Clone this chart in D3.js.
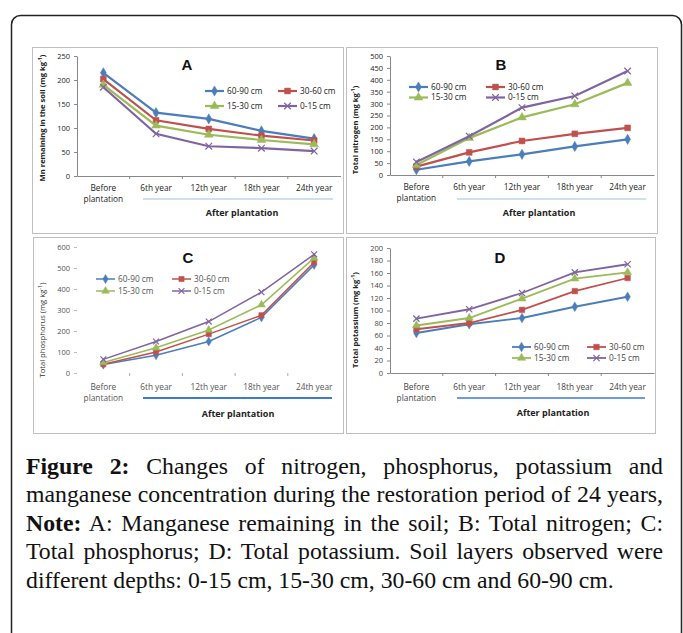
<!DOCTYPE html>
<html>
<head>
<meta charset="utf-8">
<script src="https://cdn.jsdelivr.net/npm/d3@7"></script>
<style>
  body { margin: 0; background: #fff; }
  #wrap { position: relative; width: 683px; height: 633px; overflow: hidden; }
  #wrap svg { position: absolute; left: 0; top: 0; }
  .cap { position: absolute; left: 26px; top: 452px; width: 637px; font-family: "Liberation Serif", serif; font-size: 19.5px; line-height: 28.4px; color: #111; }
  .cap div { text-align: justify; text-align-last: justify; white-space: nowrap; }
  .cap div.last { text-align-last: left; }
  .cap b { font-weight: bold; }
  .measure { position: absolute; visibility: hidden; white-space: nowrap; font-family: "Liberation Serif", serif; font-size: 19.5px; }
</style>
</head>
<body>
<div id="wrap"></div>
<script>
const categories = ['Before plantation', '6th year', '12th year', '18th year', '24th year'];
const depths = ['60-90 cm', '30-60 cm', '15-30 cm', '0-15 cm'];
const colors = ['#4a7ebb', '#c0504d', '#9bbb59', '#8064a2'];

// values per depth, in the order of depths
const mnValues = [
  [215, 132, 119, 94, 78],
  [202, 116, 98, 84, 74],
  [190, 105, 86, 75, 66],
  [185, 88, 62, 58, 52]
];
const nValues = [
  [22, 57, 87, 120, 150],
  [35, 95, 143, 173, 198],
  [42, 155, 242, 297, 387],
  [55, 163, 283, 332, 437]
];
const pValues = [
  [40, 85, 150, 265, 515],
  [42, 100, 185, 275, 527],
  [50, 120, 205, 325, 548],
  [65, 150, 245, 385, 565]
];
const kValues = [
  [64, 78, 88, 106, 122],
  [70, 80, 101, 131, 152],
  [76, 88, 119, 151, 161],
  [87, 102, 128, 161, 174]
];

const mnTicks = [0, 50, 100, 150, 200, 250];
const nTicks = [0, 50, 100, 150, 200, 250, 300, 350, 400, 450, 500];
const pTicks = [0, 100, 200, 300, 400, 500, 600];
const kTicks = [0, 20, 40, 60, 80, 100, 120, 140, 160, 180, 200];

const captionLines = [
  ['<b>Figure 2:</b> Changes of nitrogen, phosphorus, potassium and', ''],
  ['manganese concentration during the restoration period of 24 years,', ''],
  ['<b>Note:</b> A: Manganese remaining in the soil; B: Total nitrogen; C:', ''],
  ['Total phosphorus; D: Total potassium. Soil layers observed were', ''],
  ['different depths: 0-15 cm, 15-30 cm, 30-60 cm and 60-90 cm.', 'last']
];

const W = 683, H = 633;
const font = '"Open Sans", Lato, sans-serif';

const wrap = d3.select('#wrap');
const svg = wrap.append('svg').attr('width', W).attr('height', H);

// outer frame
svg.append('rect')
  .attr('x', 11.5).attr('y', 15.5)
  .attr('width', 670).attr('height', 700)
  .attr('rx', 9)
  .attr('fill', 'none').attr('stroke', '#222').attr('stroke-width', 1.5);

const xSymbol = d3.symbolX || d3.symbolTimes;
const symbols = [
  { type: d3.symbolDiamond, size: 30, fill: true },
  { type: d3.symbolSquare, size: 34, fill: true },
  { type: d3.symbolTriangle, size: 32, fill: true },
  { type: xSymbol, size: 30, fill: false }
];

const panels = [
  { name: 'A', values: mnValues, ticks: mnTicks, box: [32, 47, 311, 186],
    xRange: [77, 340.5], yRange: [176, 56], ylabel: 'Mn remaining in the soil (mg kg', ylx: 45, yly: 118,
    title: [187, 70], legend: { x: 205, y: 91, dx: 73, dy: 15 }, labelY: 188, blue: [143, 333, 199, '#9dc3e6', 1.2],
    after: [242, 216], axisColor: '#888', textColor: '#222', lw: 2.2, ms: 1 },
  { name: 'B', values: nValues, ticks: nTicks, box: [346, 47, 311, 186],
    xRange: [390, 654], yRange: [175, 56], ylabel: 'Total nitrogen (mg kg', ylx: 358, yly: 130,
    title: [501, 70], legend: { x: 409, y: 87, dx: 77, dy: 10.5 }, labelY: 187, blue: [457, 646, 199, '#9dc3e6', 1.2],
    after: [539, 216], axisColor: '#888', textColor: '#222', lw: 2.2, ms: 1 },
  { name: 'C', values: pValues, ticks: pTicks, box: [33, 237, 310, 196],
    xRange: [77, 340.5], yRange: [373, 247], ylabel: 'Total phosphorus (mg kg', ylx: 45, yly: 330,
    title: [188, 263], legend: { x: 96, y: 279, dx: 76, dy: 12 }, labelY: 387, blue: [143, 332, 398, '#3d7cc9', 2],
    after: [238, 417], axisColor: 'none', textColor: '#555', lw: 1.5, ms: 0.8 },
  { name: 'D', values: kValues, ticks: kTicks, box: [346, 237, 309, 196],
    xRange: [390, 654], yRange: [373, 248], ylabel: 'Total potassium (mg kg', ylx: 358, yly: 320,
    title: [500, 263], legend: { x: 512, y: 347, dx: 75, dy: 11 }, labelY: 387, blue: [457, 645, 398, '#3d7cc9', 1.6],
    after: [553, 416], axisColor: '#888', textColor: '#444', lw: 1.8, ms: 0.9 }
];

function marker(sel, k, scale) {
  const s = symbols[k];
  sel.attr('d', d3.symbol().type(s.type).size(s.size * scale)())
    .attr('fill', s.fill ? colors[k] : 'none')
    .attr('stroke', colors[k])
    .attr('stroke-width', s.fill ? 0.5 : 1.2);
}

function drawPanel(p) {
  const g = svg.append('g');

  g.append('rect')
    .attr('x', p.box[0] + 0.5).attr('y', p.box[1] + 0.5)
    .attr('width', p.box[2]).attr('height', p.box[3])
    .attr('fill', '#fff').attr('stroke', '#bfbfbf').attr('stroke-width', 1);

  const x = d3.scaleBand().domain(categories).range(p.xRange);
  const y = d3.scaleLinear().domain([0, d3.max(p.ticks)]).range(p.yRange);
  const bw = x.bandwidth();

  // y axis
  const gy = g.append('g')
    .attr('transform', `translate(${p.xRange[0]},0)`)
    .call(d3.axisLeft(y).tickValues(p.ticks).tickSize(3).tickSizeOuter(0).tickPadding(4));
  gy.select('.domain').attr('stroke', p.axisColor);
  gy.selectAll('.tick line').attr('stroke', p.name === 'C' ? '#bbb' : p.axisColor);
  gy.selectAll('.tick text').attr('font-family', font).attr('font-size', 7.5).attr('fill', p.textColor);

  // x axis, labels centred in each band
  const gx = g.append('g')
    .attr('transform', `translate(0,${p.yRange[0]})`)
    .call(d3.axisBottom(x).tickSize(0).tickSizeOuter(0).tickPadding(0));
  gx.select('.domain').attr('stroke', p.axisColor);
  gx.selectAll('.tick text').each(function(d) {
    const t = d3.select(this).text(null)
      .attr('font-family', font).attr('font-size', 8.3).attr('fill', p.textColor)
      .attr('y', p.labelY - p.yRange[0]).attr('dy', null);
    if (d === categories[0]) {
      d.split(' ').forEach((w, i) => {
        t.append('tspan').attr('x', 0).attr('dy', i === 0 ? '0.35em' : '1.35em').text(w);
      });
    } else {
      t.append('tspan').attr('x', 0).attr('dy', '0.35em').text(d);
    }
  });

  // tick marks between categories
  g.selectAll('.xtick').data(categories.slice(1))
    .join('line')
    .attr('x1', d => x(d)).attr('x2', d => x(d))
    .attr('y1', p.yRange[0]).attr('y2', p.yRange[0] + 3)
    .attr('stroke', p.name === 'C' ? '#aaa' : p.axisColor);

  // y axis title
  const yl = g.append('text')
    .attr('transform', `translate(${p.ylx},${p.yly}) rotate(-90)`)
    .attr('text-anchor', 'middle')
    .attr('font-family', font).attr('font-size', 7.6).attr('font-weight', p.name === 'C' ? 'normal' : 'bold')
    .attr('fill', p.name === 'C' ? '#333' : '#222');
  yl.append('tspan').text(p.ylabel);
  yl.append('tspan').attr('dy', -3).attr('font-size', 5.5).text('-1');
  yl.append('tspan').attr('dy', 3).text(')');

  // panel letter
  g.append('text')
    .attr('x', p.title[0]).attr('y', p.title[1])
    .attr('text-anchor', 'middle')
    .attr('font-family', 'Liberation Sans, Arial, sans-serif')
    .attr('font-size', 15).attr('font-weight', 'bold').attr('fill', '#111')
    .text(p.name);

  // blue bracket line and "After plantation"
  g.append('line')
    .attr('x1', p.blue[0]).attr('x2', p.blue[1])
    .attr('y1', p.blue[2]).attr('y2', p.blue[2])
    .attr('stroke', p.blue[3]).attr('stroke-width', p.blue[4]);
  g.append('text')
    .attr('x', p.after[0]).attr('y', p.after[1])
    .attr('text-anchor', 'middle')
    .attr('font-family', font).attr('font-size', 9).attr('font-weight', 'bold').attr('fill', '#222')
    .text('After plantation');

  // series
  const line = d3.line()
    .x((d, i) => x(categories[i]) + bw / 2)
    .y(d => y(d));

  p.values.forEach((vals, k) => {
    g.append('path')
      .attr('d', line(vals))
      .attr('fill', 'none')
      .attr('stroke', colors[k])
      .attr('stroke-width', p.lw);
    g.selectAll(null).data(vals)
      .join('path')
      .attr('transform', (d, i) => `translate(${x(categories[i]) + bw / 2},${y(d)})`)
      .call(marker, k, p.ms);
  });

  // legend, two rows of two
  depths.forEach((name, k) => {
    const lx = p.legend.x + (k % 2) * p.legend.dx;
    const ly = p.legend.y + Math.floor(k / 2) * p.legend.dy;
    const item = g.append('g');
    item.append('line')
      .attr('x1', lx).attr('x2', lx + 19).attr('y1', ly).attr('y2', ly)
      .attr('stroke', colors[k]).attr('stroke-width', p.lw);
    item.append('path')
      .attr('transform', `translate(${lx + 9.5},${ly})`)
      .call(marker, k, p.ms);
    item.append('text')
      .attr('x', lx + 22).attr('y', ly).attr('dy', '0.35em')
      .attr('font-family', font).attr('font-size', 8.3).attr('fill', p.textColor)
      .text(name);
  });
}

panels.forEach(drawPanel);

// caption: size the font so the longest line just fills the column
const probe = wrap.append('span').attr('class', 'measure').html(captionLines[1][0]);
const natural = probe.node().getBoundingClientRect().width;
probe.remove();
const capSize = 19.5 * 636 / natural;

const cap = wrap.append('div').attr('class', 'cap').style('font-size', capSize + 'px');
captionLines.forEach(([html, cls]) => {
  cap.append('div').attr('class', cls).html(html);
});
</script>
</body>
</html>
